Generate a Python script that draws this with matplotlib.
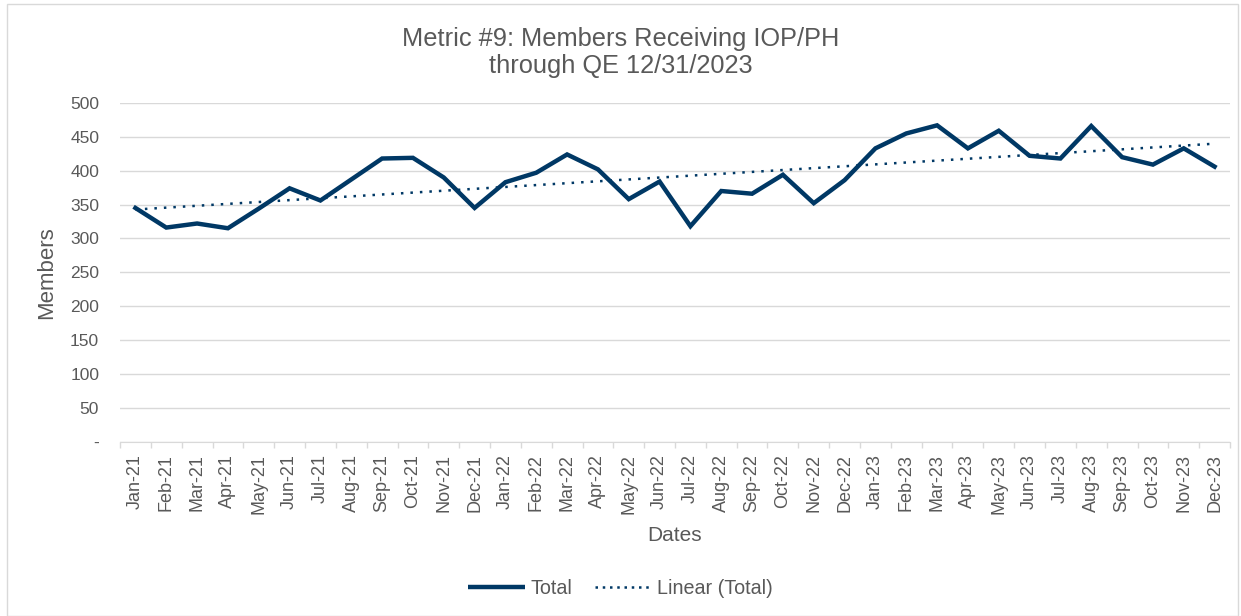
import matplotlib.pyplot as plt
import numpy as np
from matplotlib.lines import Line2D
from matplotlib.patches import Rectangle

plt.rcParams["font.family"] = ["Liberation Sans", "DejaVu Sans"]

months = ["Jan", "Feb", "Mar", "Apr", "May", "Jun",
          "Jul", "Aug", "Sep", "Oct", "Nov", "Dec"]
years = ["21", "22", "23"]
dates = [f"{m}-{y}" for y in years for m in months]

# members receiving IOP/PH
total = [345, 316, 322, 315, 344, 374, 356, 387, 418, 419, 390, 345,
         383, 397, 424, 402, 358, 384, 318, 370, 366, 394, 352, 386,
         433, 455, 467, 433, 459, 422, 418, 466, 420, 409, 433, 406]

navy = "#003865"
grey_text = "#595959"

fig = plt.figure(figsize=(12.41, 6.16), dpi=100)
ax = fig.add_axes([120 / 1241, 1 - 441.5 / 616, 1110 / 1241, 338.5 / 616])

x = np.arange(len(dates))
ax.plot(x, total, color=navy, lw=3.2, solid_joinstyle="miter", zorder=3)

# linear trend, like Excel's trendline
coef = np.polyfit(x, total, 1)
ax.plot(x, np.polyval(coef, x), color=navy, lw=1.8, ls=(0, (1, 2.8)), zorder=2)

ax.set_xlim(-0.5, len(dates) - 0.5)
ax.set_ylim(0, 500)
yt = np.arange(0, 501, 50)
ax.set_yticks(yt)
ax.set_yticklabels(["-"] + [str(v) for v in yt[1:]])
ax.grid(axis="y", color="#d9d9d9", lw=1)
ax.set_axisbelow(True)

ax.set_xticks(x)
ax.set_xticklabels(dates, rotation=90)
ax.set_xticks(np.arange(-0.5, len(dates), 1), minor=True)
ax.tick_params(axis="x", which="major", length=0, pad=9, labelsize=13, colors=grey_text)
ax.tick_params(axis="x", which="minor", length=4, color="#d9d9d9", width=1)
ax.tick_params(axis="y", length=0, pad=15, labelsize=12.5, colors=grey_text)

for s in ["top", "right", "left"]:
    ax.spines[s].set_visible(False)
ax.spines["bottom"].set_color("#d9d9d9")

ax.set_ylabel("Members", fontsize=16, color=grey_text, labelpad=9)
ax.set_xlabel("Dates", fontsize=15, color=grey_text, labelpad=9)

fig.text(0.5, 1 - 52.5 / 616, "Metric #9: Members Receiving IOP/PH\nthrough QE 12/31/2023",
         ha="center", va="center", fontsize=18.3, color=grey_text, linespacing=1.12)

handles = [Line2D([], [], color=navy, lw=3.2, solid_capstyle="butt"),
           Line2D([], [], color=navy, lw=1.8, ls=(0, (1, 1.9)))]
fig.legend(handles, ["Total", "Linear (Total)"], loc="center",
           bbox_to_anchor=(0.5, 1 - 588 / 616), ncol=2, frameon=False,
           fontsize=14.2, labelcolor=grey_text, handlelength=2.9, columnspacing=1.15,
           handletextpad=0.26)

fig.patches.append(Rectangle((7 / 1241, 0.5 / 616), 1231 / 1241, 612 / 616,
                             transform=fig.transFigure, fill=False,
                             edgecolor="#d9d9d9", lw=1))

fig.savefig("out.png", dpi=100)
